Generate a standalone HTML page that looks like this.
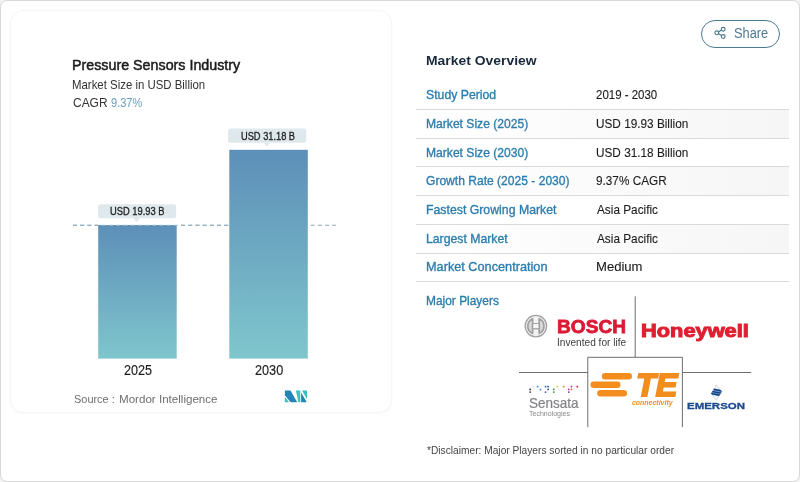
<!DOCTYPE html>
<html lang="en">
<head>
<meta charset="utf-8">
<title>Pressure Sensors Industry - Market Overview</title>
<style>
html,body{margin:0;padding:0;}
body{width:800px;height:482px;overflow:hidden;background:#f1f1f1;font-family:"Liberation Sans",Arial,sans-serif;}
#wrap{position:absolute;left:0;top:0;width:800px;height:482px;box-sizing:border-box;border:1px solid #d8d8d8;border-radius:7px;background:#fff;overflow:hidden;}
#page{position:absolute;left:0;top:0;width:800px;height:482px;}
#card{position:absolute;left:10px;top:10px;width:382px;height:403px;box-sizing:border-box;border:1px solid #f6f6f6;border-radius:13px;background:#fff;box-shadow:0 1px 2px rgba(0,0,0,0.03);}
.t{position:absolute;white-space:pre;line-height:1;transform-origin:0 50%;font-family:"Liberation Sans",Arial,sans-serif;}
.row{position:absolute;left:416px;width:373px;}
.ln{position:absolute;left:416px;width:373px;height:1px;background:#dadada;}
#share{position:absolute;left:701px;top:19.5px;width:79px;height:28px;box-sizing:border-box;border:1.3px solid #4d7a90;border-radius:14px;background:#fff;}
svg{position:absolute;left:0;top:0;}
</style>
</head>
<body>
<div id="wrap"></div>
<div id="page">
<div id="card"></div>

<!-- table stripes and separators -->
<div class="row" style="top:110px;height:28px;background:linear-gradient(to right,#ffffff 0%,#fbfbfb 45%,#f6f6f6 100%);"></div>
<div class="row" style="top:167px;height:28px;background:linear-gradient(to right,#ffffff 0%,#fbfbfb 45%,#f6f6f6 100%);"></div>
<div class="row" style="top:225px;height:28px;background:linear-gradient(to right,#ffffff 0%,#fbfbfb 45%,#f6f6f6 100%);"></div>
<div class="ln" style="top:109px;"></div>
<div class="ln" style="top:138px;"></div>
<div class="ln" style="top:166px;"></div>
<div class="ln" style="top:195px;"></div>
<div class="ln" style="top:224px;"></div>
<div class="ln" style="top:253px;"></div>
<div class="ln" style="top:281px;"></div>

<div id="share"></div>

<svg width="800" height="482" viewBox="0 0 800 482">
  <defs>
    <linearGradient id="bar" x1="0" y1="0" x2="0" y2="1">
      <stop offset="0" stop-color="#5d8fb8"/>
      <stop offset="1" stop-color="#7fc6cd"/>
    </linearGradient>
    <radialGradient id="bg" cx="0.5" cy="0.5" r="0.5">
      <stop offset="0" stop-color="#ffffff"/>
      <stop offset="0.7" stop-color="#f0f0f0"/>
      <stop offset="1" stop-color="#d8d8d8"/>
    </radialGradient>
  </defs>
  <!-- bars -->
  <rect x="98.2" y="225" width="78.5" height="133.6" fill="url(#bar)"/>
  <rect x="229.3" y="149.8" width="78.5" height="208.8" fill="url(#bar)"/>
  <!-- dashed reference line -->
  <g stroke="#8aa7b4" stroke-width="1.1" stroke-dasharray="4.1 3.1" fill="none">
    <line x1="72.9" y1="225.3" x2="229.3" y2="225.3" stroke="#9dbfd3"/>
    <line x1="72.9" y1="225.3" x2="98.2" y2="225.3"/>
    <line x1="181" y1="225.3" x2="229.3" y2="225.3"/>
    <line x1="310.6" y1="225.3" x2="336" y2="225.3"/>
  </g>
  <!-- value labels -->
  <g fill="#dfe9ed">
    <rect x="98.1" y="204.2" width="78.1" height="14.1" rx="2.5"/>
    <path d="M133.1 218.1 L139.9 218.1 L136.5 222.1 Z"/>
    <rect x="228.1" y="128.5" width="78.1" height="14.3" rx="2.5"/>
    <path d="M263.5 142.6 L270.3 142.6 L266.9 146.7 Z"/>
  </g>
  <!-- Mordor Intelligence mark -->
  <g transform="translate(284.7 390.6)">
    <path d="M0.2 0 L5.8 0 L12.5 11.6 L5.9 11.6 L0.2 4.7 Z" fill="#2583b5"/>
    <path d="M0.1 6.3 L0.1 11.6 L4.4 11.6 Z" fill="#3dbdc0"/>
    <path d="M11.1 0 L15.6 0 L15.6 11.6 L13.7 11.6 Z" fill="#3dc3c4"/>
    <path d="M16.4 2.0 L16.4 11.6 L22.1 11.6 Z" fill="#2583b5"/>
    <path d="M17.3 0 L22.3 0 L22.3 8.7 Z" fill="#3dbdc0"/>
  </g>
  <!-- share icon -->
  <g fill="none" stroke="#4d7a90" stroke-width="1.15">
    <circle cx="716.8" cy="32.8" r="1.9"/>
    <circle cx="723.2" cy="29.2" r="1.9"/>
    <circle cx="723.2" cy="36.6" r="1.9"/>
    <path d="M718.5 31.9 L721.5 30.1 M718.5 33.8 L721.5 35.6"/>
  </g>
  <!-- players grid lines -->
  <g fill="none" stroke="#6d6d6d" stroke-width="1">
    <path d="M635.2 296.3 L635.2 357.3"/>
    <path d="M519 372.5 L751.3 372.5"/>
  </g>
  <rect x="587.8" y="357.3" width="94.6" height="72" fill="#fff" stroke="none"/>
  <path d="M587.8 427.2 L587.8 357.3 L682.4 357.3 L682.4 427.2" fill="none" stroke="#6d6d6d" stroke-width="1"/>
  <!-- Bosch armature -->
  <g transform="translate(535.9 326.1)">
    <circle r="10.7" fill="#f3f3f3" stroke="#a2a2a2" stroke-width="1.3"/>
    <path d="M-3.3 -7.4 L-3.3 7.4 A8.1 8.1 0 0 1 -3.3 -7.4 Z M3.3 -7.4 L3.3 7.4 A8.1 8.1 0 0 0 3.3 -7.4 Z" fill="#d9d9d9" stroke="#9f9f9f" stroke-width="1.7" stroke-linejoin="round"/>
    <path d="M-3.3 -2.5 L3.3 -2.5 M-3.3 2.7 L3.3 2.7" stroke="#a6a6a6" stroke-width="1.4" fill="none"/>
    <rect x="-2.4" y="-1.8" width="4.8" height="3.8" fill="#f7fafc"/>
  </g>
  <!-- Sensata dots -->
  <g>
    <rect x="529.3" y="388.6" width="1.7" height="1.7" rx="0.4" fill="#3c3c3c"/>
    <rect x="529.3" y="391.2" width="1.7" height="1.7" rx="0.4" fill="#5a5a5a"/>
    <rect x="532.6" y="385.9" width="1.7" height="1.7" rx="0.4" fill="#c5dbee"/>
    <rect x="536.8" y="385.7" width="1.7" height="1.7" rx="0.4" fill="#2b93d6"/>
    <rect x="539.6" y="388.7" width="1.7" height="1.7" rx="0.4" fill="#4a86d0"/>
    <rect x="544.7" y="385.7" width="1.7" height="1.7" rx="0.4" fill="#2b6f8f"/>
    <rect x="547.3" y="385.7" width="1.7" height="1.7" rx="0.4" fill="#2b5f86"/>
    <rect x="547.3" y="388.6" width="1.7" height="1.7" rx="0.4" fill="#2b5f86"/>
    <rect x="544.7" y="391.3" width="1.7" height="1.7" rx="0.4" fill="#6a4fb8"/>
    <rect x="552.9" y="388.6" width="1.7" height="1.7" rx="0.4" fill="#2f9248"/>
    <rect x="552.9" y="391.3" width="1.7" height="1.7" rx="0.4" fill="#3fa24a"/>
    <rect x="556.5" y="385.8" width="1.7" height="1.7" rx="0.4" fill="#c8d848"/>
    <rect x="562.9" y="385.7" width="1.7" height="1.7" rx="0.4" fill="#cf9420"/>
    <rect x="567.9" y="388.6" width="1.7" height="1.7" rx="0.4" fill="#b83a9a"/>
    <rect x="567.9" y="391.3" width="1.7" height="1.7" rx="0.4" fill="#7a4fa0"/>
    <rect x="570.6" y="385.7" width="1.7" height="1.7" rx="0.4" fill="#d0287a"/>
    <rect x="570.6" y="388.6" width="1.7" height="1.7" rx="0.4" fill="#e86a4a"/>
    <rect x="576.5" y="385.7" width="1.7" height="1.7" rx="0.4" fill="#d81a2a"/>
  </g>
  <!-- TE bars -->
  <g fill="#f28d1e">
    <rect x="601.8" y="372.9" width="30.2" height="6.6" rx="3.3"/>
    <rect x="590.5" y="381.5" width="30" height="6.5" rx="3.25"/>
    <rect x="597.2" y="389.9" width="29.8" height="6.6" rx="3.3"/>
  </g>
  <!-- Emerson helix -->
  <g transform="translate(716.45 392.6)">
    <clipPath id="emc"><path d="M0 -7.6 L5.4 -1.0 L0 7.6 L-5.4 0.9 Z"/></clipPath>
    <path d="M0 -7.6 L5.4 -1.0 L0 7.6 L-5.4 0.9 Z" fill="#f4f7fb" stroke="#a9b4c6" stroke-width="0.5"/>
    <g clip-path="url(#emc)">
      <path d="M-6 -4.9 L6 -2.5 L6 4.2 L-6 1.8 Z" fill="#6a9fd6"/>
      <g stroke="#173f7c" stroke-width="1.5" fill="none">
        <path d="M-6 -3.9 L6 -1.5"/>
        <path d="M-6 -1.5 L6 0.9"/>
        <path d="M-6 0.9 L6 3.3"/>
      </g>
    </g>
  </g>
</svg>

<div class="t" id="t1" style="left:72.05px;top:56px;font-size:15px;line-height:17px;transform:scaleX(0.9517);color:#1c1c1c;-webkit-text-stroke:0.5px #1a1a1a;">Pressure Sensors Industry</div>
<div class="t" id="t2" style="left:72.11px;top:77px;font-size:12.8px;line-height:15px;transform:scaleX(0.8915);color:#333;">Market Size in USD Billion</div>
<div class="t" id="t3" style="left:72.52px;top:96px;font-size:12.5px;line-height:14px;transform:scaleX(0.9571);color:#333;">CAGR</div>
<div class="t" id="t4" style="left:110.56px;top:96px;font-size:12.5px;line-height:14px;transform:scaleX(0.8841);color:#6b9dbd;">9.37%</div>
<div class="t" id="b1" style="left:109.93px;top:206px;font-size:10px;line-height:11px;transform:scaleX(0.9322);color:#1e1e1e;-webkit-text-stroke:0.3px #1e1e1e;">USD 19.93 B</div>
<div class="t" id="b2" style="left:241.04px;top:131px;font-size:10px;line-height:11px;transform:scaleX(0.9261);color:#1e1e1e;-webkit-text-stroke:0.3px #1e1e1e;">USD 31.18 B</div>
<div class="t" id="y1" style="left:123.55px;top:362px;font-size:14px;line-height:16px;transform:scaleX(0.8992);color:#1e1e1e;-webkit-text-stroke:0.15px #1e1e1e;">2025</div>
<div class="t" id="y2" style="left:254.55px;top:362px;font-size:14px;line-height:16px;transform:scaleX(0.9058);color:#1e1e1e;-webkit-text-stroke:0.15px #1e1e1e;">2030</div>
<div class="t" id="src" style="left:73.54px;top:392px;font-size:11.8px;line-height:14px;transform:scaleX(0.9278);color:#6e6e6e;">Source :</div>
<div class="t" id="src2" style="left:119.22px;top:392px;font-size:11.8px;line-height:14px;transform:scaleX(0.9823);color:#6e6e6e;">Mordor Intelligence</div>
<div class="t" id="sh" style="left:734.06px;top:25px;font-size:14px;line-height:16px;transform:scaleX(0.9167);color:#4d7a90;">Share</div>
<div class="t" id="mo" style="left:425.97px;top:53px;font-size:13.5px;line-height:15px;transform:scaleX(1.0306);color:#19293a;font-weight:bold;">Market Overview</div>
<div class="t" id="l1" style="left:426.03px;top:87px;font-size:13px;line-height:15px;transform:scaleX(0.9420);color:#2c7dad;-webkit-text-stroke:0.35px #2c7dad;">Study Period</div>
<div class="t" id="l2" style="left:425.80px;top:116px;font-size:13px;line-height:15px;transform:scaleX(0.9309);color:#2c7dad;-webkit-text-stroke:0.35px #2c7dad;">Market Size (2025)</div>
<div class="t" id="l3" style="left:425.80px;top:145px;font-size:13px;line-height:15px;transform:scaleX(0.9309);color:#2c7dad;-webkit-text-stroke:0.35px #2c7dad;">Market Size (2030)</div>
<div class="t" id="l4" style="left:426.04px;top:173px;font-size:13px;line-height:15px;transform:scaleX(0.9283);color:#2c7dad;-webkit-text-stroke:0.35px #2c7dad;">Growth Rate (2025 - 2030)</div>
<div class="t" id="l5" style="left:426.29px;top:202px;font-size:13px;line-height:15px;transform:scaleX(0.9454);color:#2c7dad;-webkit-text-stroke:0.35px #2c7dad;">Fastest Growing Market</div>
<div class="t" id="l6" style="left:426.29px;top:231px;font-size:13px;line-height:15px;transform:scaleX(0.9419);color:#2c7dad;-webkit-text-stroke:0.35px #2c7dad;">Largest Market</div>
<div class="t" id="l7" style="left:426.27px;top:259px;font-size:13px;line-height:15px;transform:scaleX(0.9776);color:#2c7dad;-webkit-text-stroke:0.35px #2c7dad;">Market Concentration</div>
<div class="t" id="l8" style="left:426.31px;top:293px;font-size:13px;line-height:15px;transform:scaleX(0.9172);color:#2c7dad;-webkit-text-stroke:0.35px #2c7dad;">Major Players</div>
<div class="t" id="v1" style="left:596.08px;top:87px;font-size:13.5px;line-height:15px;transform:scaleX(0.8491);color:#1c1c1c;-webkit-text-stroke:0.12px #1c1c1c;">2019 - 2030</div>
<div class="t" id="v2" style="left:595.63px;top:116px;font-size:13.5px;line-height:15px;transform:scaleX(0.8726);color:#1c1c1c;-webkit-text-stroke:0.12px #1c1c1c;">USD 19.93 Billion</div>
<div class="t" id="v3" style="left:595.63px;top:145px;font-size:13.5px;line-height:15px;transform:scaleX(0.8726);color:#1c1c1c;-webkit-text-stroke:0.12px #1c1c1c;">USD 31.18 Billion</div>
<div class="t" id="v4" style="left:596.26px;top:173px;font-size:13.5px;line-height:15px;transform:scaleX(0.8725);color:#1c1c1c;-webkit-text-stroke:0.12px #1c1c1c;">9.37% CAGR</div>
<div class="t" id="v5" style="left:596.70px;top:202px;font-size:13.5px;line-height:15px;transform:scaleX(0.8734);color:#1c1c1c;-webkit-text-stroke:0.12px #1c1c1c;">Asia Pacific</div>
<div class="t" id="v6" style="left:596.70px;top:231px;font-size:13.5px;line-height:15px;transform:scaleX(0.8734);color:#1c1c1c;-webkit-text-stroke:0.12px #1c1c1c;">Asia Pacific</div>
<div class="t" id="v7" style="left:595.73px;top:259px;font-size:13.5px;line-height:15px;transform:scaleX(0.9686);color:#1c1c1c;-webkit-text-stroke:0.12px #1c1c1c;">Medium</div>
<div class="t" id="dis" style="left:427.02px;top:444px;font-size:11px;line-height:12px;transform:scaleX(0.9268);color:#444;">*Disclaimer: Major Players sorted in no particular order</div>
<div class="t" id="bo" style="left:556.84px;top:316px;font-size:18.8px;line-height:21px;transform:scaleX(1.0174);color:#dc1a35;font-weight:bold;-webkit-text-stroke:0.8px #dc1a35;">BOSCH</div>
<div class="t" id="bo2" style="left:556.63px;top:337px;font-size:10.4px;line-height:11px;transform:scaleX(0.9727);color:#404040;">Invented for life</div>
<div class="t" id="hw" style="left:640.81px;top:320px;font-size:18.4px;line-height:21px;transform:scaleX(1.1855);color:#df2032;font-weight:bold;-webkit-text-stroke:1px #df2032;">Honeywell</div>
<div class="t" id="se" style="left:528.51px;top:395px;font-size:13.9px;line-height:16px;transform:scaleX(0.9703);color:#808285;-webkit-text-stroke:0.2px #808285;">Sensata</div>
<div class="t" id="se2" style="left:529.00px;top:410px;font-size:6.5px;line-height:7px;transform:scaleX(1.0808);color:#85878a;">Technologies</div>
<div class="t" id="te" style="left:635.52px;top:367px;font-size:31.7px;line-height:36px;transform:scaleX(1.0244);color:#f28d1e;font-weight:bold;font-style:italic;-webkit-text-stroke:1.8px #f28d1e;">TE</div>
<div class="t" id="te2" style="left:631.52px;top:398px;font-size:7.6px;line-height:9px;transform:scaleX(0.9153);color:#f28d1e;font-weight:bold;font-style:italic;">connectivity</div>
<div class="t" id="em" style="left:687.40px;top:400px;font-size:9.6px;line-height:11px;transform:scaleX(1.1958);color:#1b4a8c;font-weight:bold;-webkit-text-stroke:0.3px #1b4a8c;">EMERSON</div>
</div>
</body>
</html>
